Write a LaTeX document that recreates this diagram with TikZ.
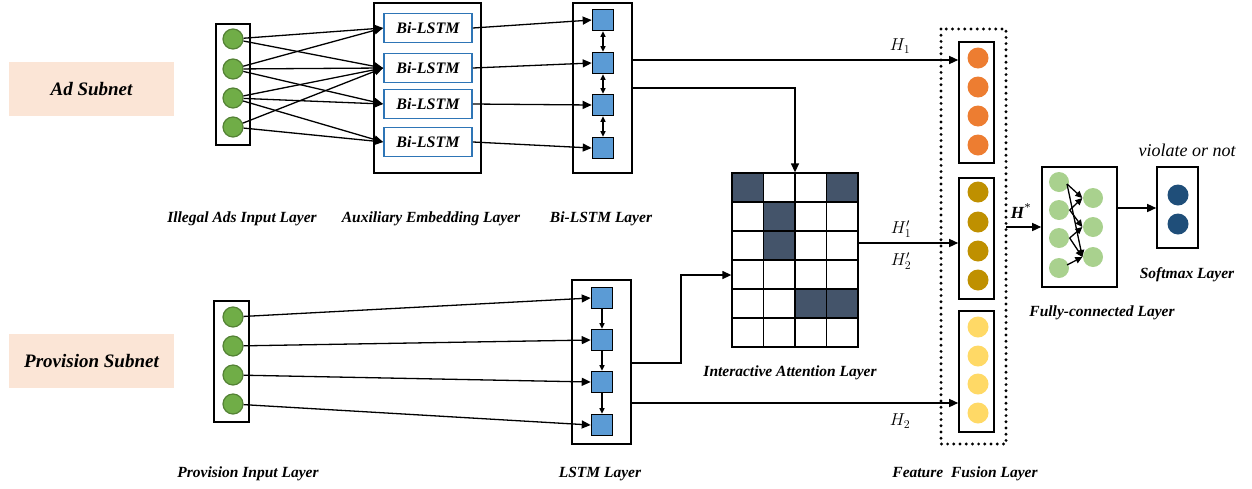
\documentclass[tikz,border=0pt]{standalone}
\usepackage{fontspec}
\setmainfont{Liberation Serif}
\usetikzlibrary{arrows.meta, positioning, calc}
\definecolor{subnetpink}{RGB}{251,229,214}
\definecolor{dotgreen}{RGB}{112,173,71}
\definecolor{dotgreenline}{RGB}{84,130,53}
\definecolor{lstmblue}{RGB}{46,117,182}
\definecolor{cellblue}{RGB}{91,155,213}
\definecolor{gridslate}{RGB}{68,84,106}
\definecolor{fuseorange}{RGB}{237,125,49}
\definecolor{fusemustard}{RGB}{191,144,0}
\definecolor{fuseyellow}{RGB}{255,217,102}
\definecolor{fcgreen}{RGB}{169,209,142}
\definecolor{softnavy}{RGB}{31,78,121}

\begin{document}
\begin{tikzpicture}[x=1pt, y=-1pt, line width=1.3pt,
  tip/.style={-{Triangle[length=9pt,width=8pt]}},
  smalltip/.style={{Triangle[length=5.5pt,width=5pt]}-{Triangle[length=5.5pt,width=5pt]}},
  downtip/.style={-{Triangle[length=5.5pt,width=5pt]}},
  fctip/.style={-{Triangle[length=7pt,width=6.5pt]}},
  layerbox/.style={draw, line width=1.6pt, inner sep=0pt},
  subnet/.style={fill=subnetpink, minimum width=165pt, minimum height=54pt, font=\bfseries\itshape\fontsize{19}{21}\selectfont},
  lbl/.style={font=\bfseries\itshape\fontsize{15.5}{18}\selectfont},
  hlbl/.style={font=\fontsize{17}{19}\selectfont},
  indot/.style={circle, fill=dotgreen, draw=dotgreenline, line width=1.2pt, minimum size=20pt, inner sep=0pt},
  bibox/.style={draw=lstmblue, line width=1.8pt, fill=white, minimum width=88pt, minimum height=29pt, inner sep=0pt, font=\bfseries\itshape\fontsize{16}{18}\selectfont},
  cell/.style={draw, line width=1.6pt, fill=cellblue, minimum size=21pt, inner sep=0pt},
  fusedot/.style={circle, minimum size=21pt, inner sep=0pt},
  fcdot/.style={circle, fill=fcgreen, minimum size=20pt, inner sep=0pt}]
\useasboundingbox (0,0) rectangle (1252,488);

% subnets
\node[subnet] (adnet) at (91.5,89) {Ad Subnet};
\node[subnet] (provnet) at (91.5,361) {Provision Subnet};

% illegal ads input layer
\node[layerbox, minimum width=34pt, minimum height=121pt] (adin) at (233,84.5) {};
\node[indot] (in1) at (233,39) {};
\node[indot] (in2) at (233,69) {};
\node[indot] (in3) at (233,98) {};
\node[indot] (in4) at (233,127) {};

% auxiliary embedding layer
\node[layerbox, minimum width=107pt, minimum height=170pt] (embed) at (427.5,88) {};
\node[bibox] (bi1) at (428,28) {Bi-LSTM};
\node[bibox] (bi2) at (428,68) {Bi-LSTM};
\node[bibox] (bi3) at (428,104) {Bi-LSTM};
\node[bibox] (bi4) at (428,142) {Bi-LSTM};

\draw[tip] (in1) -- (bi1.west);
\draw[tip] (in1) -- (bi2.west);
\draw[tip] (in2) -- (bi1.west);
\draw[tip] (in2) -- (bi2.west);
\draw[tip] (in2) -- (bi3.west);
\draw[tip] (in3) -- (bi2.west);
\draw[tip] (in3) -- (bi3.west);
\draw[tip] (in3) -- (bi4.west);
\draw[tip] (in4) -- (bi2.west);
\draw[tip] (in4) -- (bi4.west);

% bi-lstm layer
\node[layerbox, minimum width=59pt, minimum height=170pt] (bilayer) at (602.5,88) {};
\node[cell] (sq1) at (603,20) {};
\node[cell] (sq2) at (603,63) {};
\node[cell] (sq3) at (603,105) {};
\node[cell] (sq4) at (603,148) {};
\draw[tip] (bi1.east) -- (sq1.west);
\draw[tip] (bi2.east) -- (sq2.west);
\draw[tip] (bi3.east) -- (sq3.west);
\draw[tip] (bi4.east) -- (sq4.west);
\draw[smalltip] (sq1.south) -- (sq2.north);
\draw[smalltip] (sq2.south) -- (sq3.north);
\draw[smalltip] (sq3.south) -- (sq4.north);

% provision input layer
\node[layerbox, minimum width=35pt, minimum height=121pt] (provin) at (231.5,361.5) {};
\node[indot] (pin1) at (233,317) {};
\node[indot] (pin2) at (233,346) {};
\node[indot] (pin3) at (233,375) {};
\node[indot] (pin4) at (233,404) {};

% lstm layer
\node[layerbox, minimum width=59pt, minimum height=164pt] (lslayer) at (601.5,362) {};
\node[cell] (ls1) at (602,298) {};
\node[cell] (ls2) at (602,340) {};
\node[cell] (ls3) at (602,382) {};
\node[cell] (ls4) at (602,425) {};
\draw[tip] (pin1) -- (ls1.west);
\draw[tip] (pin2) -- (ls2.west);
\draw[tip] (pin3) -- (ls3.west);
\draw[tip] (pin4) -- (ls4.west);
\draw[downtip] (ls1.south) -- (ls2.north);
\draw[downtip] (ls2.south) -- (ls3.north);
\draw[downtip] (ls3.south) -- (ls4.north);

% interactive attention matrix
\foreach \r/\c in {0/0, 0/3, 1/1, 2/1, 4/2, 4/3}
  \fill[gridslate] (732+31.5*\c,173+29*\r) rectangle +(31.5,29);
\foreach \r in {0,...,5}
  \foreach \c in {0,...,3}
    \draw[line width=1.8pt] (732+31.5*\c,173+29*\r) rectangle +(31.5,29);
\node[minimum width=126pt, minimum height=174pt, inner sep=0pt] (att) at (795,260) {};

% feature fusion layer
\draw[line width=3.2pt, line cap=round, dash pattern=on 0pt off 6.2pt] (941,29) rectangle (1006,444);
\node[layerbox, minimum width=35pt, minimum height=121pt] (orange) at (976.5,102.5) {};
\node[layerbox, minimum width=35pt, minimum height=121pt] (mustard) at (976.5,238.5) {};
\node[layerbox, minimum width=35pt, minimum height=121pt] (yellow) at (976.5,371.5) {};
\foreach \y in {58,87,116,145} \node[fusedot, fill=fuseorange] at (978,\y) {};
\foreach \y in {192,222,251,280} \node[fusedot, fill=fusemustard] at (978,\y) {};
\foreach \y in {327,356,384,413} \node[fusedot, fill=fuseyellow] at (978,\y) {};
\coordinate (fuse) at (1006,227);

\draw[tip] (bilayer.east |- 0,60) -- (orange.west |- 0,60);
\draw[tip] (bilayer.east |- 0,88) -| (att.north);
\draw[tip] (att.east |- 0,243) -- (mustard.west |- 0,243);
\draw[tip] (lslayer.east |- 0,363) -- (681,363) |- (att.west |- 0,275);
\draw[tip] (lslayer.east |- 0,403) -- (yellow.west |- 0,403);
\node[hlbl] (h1) at (900,46) {$H_1$};
\node[hlbl] (h1p) at (901,229) {$H_1'$};
\node[hlbl] (h2p) at (901,261) {$H_2'$};
\node[hlbl] (h2) at (900,421) {$H_2$};

% fully-connected layer
\node[layerbox, minimum width=75pt, minimum height=120pt] (fc) at (1079.5,227) {};
\node[fcdot] (fl1) at (1059,182) {};
\node[fcdot] (fl2) at (1059,210) {};
\node[fcdot] (fl3) at (1059,238) {};
\node[fcdot] (fl4) at (1059,268) {};
\node[fcdot] (fr1) at (1093,198) {};
\node[fcdot] (fr2) at (1093,227) {};
\node[fcdot] (fr3) at (1093,257) {};
\draw[tip] (fuse) -- (fc.west |- fuse);
\node[hlbl] (hstar) at (1021,211) {\textbf{\textit{H}}\textsuperscript{*}};
\draw[fctip] (fl1.center) ++(8,2) -- (fr1.west);
\draw[fctip] (fl1.center) ++(8,2) -- (fr3.west);
\draw[fctip] (fl2.east) -- (fr1.west);
\draw[fctip] (fl2.east) -- (fr2.west);
\draw[fctip] (fl3.east) -- (fr2.west);
\draw[fctip] (fl3.east) -- (fr3.west);
\draw[fctip] (fl4.center) ++(8,-3) -- (fr3.west);

% softmax layer
\node[layerbox, minimum width=41pt, minimum height=81pt] (soft) at (1177.5,207.5) {};
\node[circle, fill=softnavy, minimum size=21pt, inner sep=0pt] (out1) at (1178,195) {};
\node[circle, fill=softnavy, minimum size=21pt, inner sep=0pt] (out2) at (1178,224) {};
\draw[tip] (fc.east |- 0,208) -- (soft.west |- 0,208);
\node[font=\itshape\fontsize{18}{20}\selectfont] (verdict) at (1187,150) {violate or not};

% layer names
\node[lbl] at (242,219) {Illegal Ads Input Layer};
\node[lbl] at (431,219) {Auxiliary Embedding Layer};
\node[lbl] at (601,219) {Bi-LSTM Layer};
\node[lbl] at (248,474) {Provision Input Layer};
\node[lbl] at (600,474) {LSTM Layer};
\node[lbl] at (790,373) {Interactive Attention Layer};
\node[lbl] at (965,474) {Feature\ \ Fusion Layer};
\node[lbl] at (1102,313) {Fully-connected Layer};
\node[lbl] at (1187,275) {Softmax Layer};
\end{tikzpicture}
\end{document}
